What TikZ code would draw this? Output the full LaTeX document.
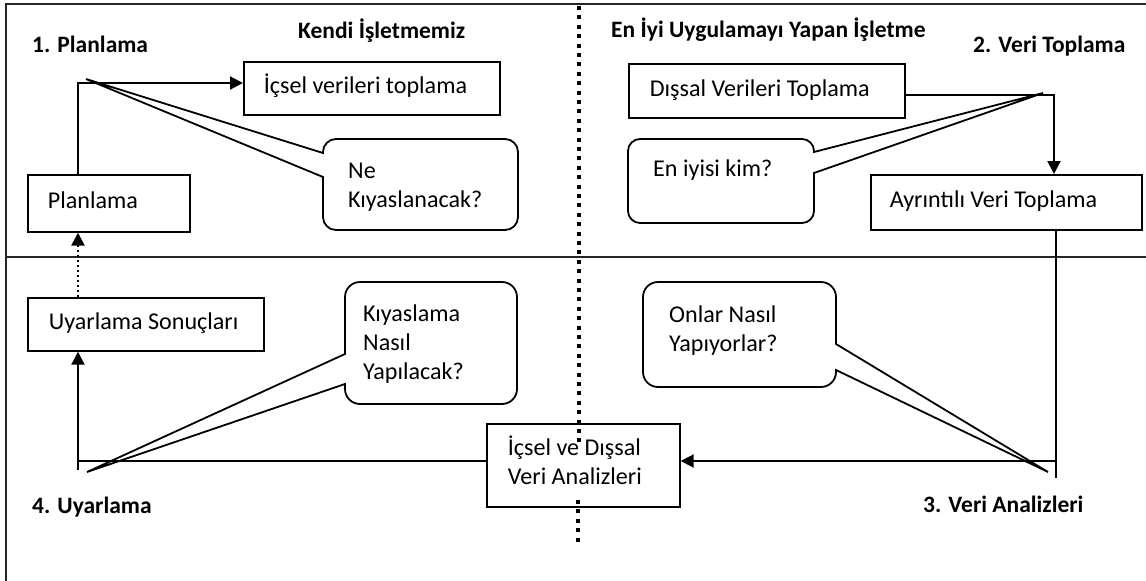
\documentclass[tikz,border=0pt]{standalone}
\usepackage{fontspec}
\setmainfont{Carlito}
\usetikzlibrary{arrows.meta}
\begin{document}
\begin{tikzpicture}[x=1pt,y=-1pt,
  font=\fontsize{24.1}{29}\selectfont,
  bx/.style={draw, line width=1.7pt, anchor=north west, align=flush left, inner ysep=0pt, text height=16pt, text depth=5pt},
  lbl/.style={font=\fontsize{23.5}{29}\selectfont\bfseries, anchor=base west, inner sep=0pt},
  txt/.style={anchor=base west, inner sep=0pt, align=flush left},
  ln/.style={line width=2pt},
  arr/.style={ln, -{Triangle[length=13pt,width=13pt]}},
  coline/.style={line width=1.8pt, line join=miter},
  frame/.style={line width=2pt, draw=black!85},
  bigdots/.style={line width=4pt, dash pattern=on 4pt off 5.4pt},
  smalldots/.style={line width=2.5pt, dash pattern=on 2.5pt off 2.5pt}]
\useasboundingbox (0,0) rectangle (1146,581);

% frame and quadrant lines
\draw[frame] (6,581) -- (6,4) -- (1146,4);
\draw[frame] (6,257) -- (1146,257);

% titles
\node[lbl] (t1) at (32,52) {1. Planlama};
\node[lbl] (t2) at (973,52) {2. Veri Toplama};
\node[lbl] (t3) at (923,512) {3. Veri Analizleri};
\node[lbl] (t4) at (32,513) {4. Uyarlama};
\node[lbl] (kendi) at (298,38) {Kendi İşletmemiz};
\node[lbl] (eniyi) at (611,37) {En İyi Uygulamayı Yapan İşletme};

% boxes
\node[bx, inner xsep=20pt, text width=216pt, minimum height=53pt] (ic) at (243,61) {İçsel verileri toplama};
\node[bx, inner xsep=20pt, text width=122pt, minimum height=57pt] (pl) at (27,174) {Planlama};
\node[bx, inner xsep=21pt, text width=194pt, minimum height=53pt] (us) at (27,297) {Uyarlama Sonuçları};
\node[bx, inner xsep=21pt, text width=234pt, minimum height=54pt] (dv) at (628,63) {Dışsal Verileri Toplama};
\node[bx, inner xsep=19pt, text width=233pt, minimum height=55pt] (ay) at (870,174) {Ayrıntılı Veri Toplama};
\node[draw, line width=1.7pt, fill=white, anchor=north west, inner ysep=0pt, inner xsep=21pt] (an) at (486,423)
  {\parbox[b][83pt][t]{151pt}{\rule{0pt}{32pt}İçsel ve Dışsal\\Veri Analizleri}};

% callouts (rounded boxes with pointers)
\coordinate (tip1) at (86,79);
\coordinate (tip2) at (1043,93);
\coordinate (tip3) at (1048,472);
\coordinate (tip4) at (87,472);
% left notch: Ne Kıyaslanacak
\draw[coline] (323,153) -- (323,152)
  arc[start angle=180, end angle=270, radius=13] -- (505,139)
  arc[start angle=270, end angle=360, radius=13] -- (518,217)
  arc[start angle=0, end angle=90, radius=13] -- (336,230)
  arc[start angle=90, end angle=180, radius=13] -- (323,177) -- (tip1) -- cycle;
% right notch: En iyisi kim
\draw[coline] (814,173) -- (814,211)
  arc[start angle=0, end angle=90, radius=12] -- (640,223)
  arc[start angle=90, end angle=180, radius=12] -- (628,151)
  arc[start angle=180, end angle=270, radius=12] -- (802,139)
  arc[start angle=270, end angle=360, radius=12] -- (814,152) -- (tip2) -- cycle;
% right notch: Onlar Nasıl
\draw[coline] (836,370) -- (836,372)
  arc[start angle=0, end angle=90, radius=15] -- (658,387)
  arc[start angle=90, end angle=180, radius=15] -- (643,297)
  arc[start angle=180, end angle=270, radius=15] -- (821,282)
  arc[start angle=270, end angle=360, radius=15] -- (836,344) -- (tip3) -- cycle;
% left notch: Kıyaslama Nasıl
\draw[coline] (345,354) -- (345,297)
  arc[start angle=180, end angle=270, radius=15] -- (502,282)
  arc[start angle=270, end angle=360, radius=15] -- (517,389)
  arc[start angle=0, end angle=90, radius=15] -- (360,404)
  arc[start angle=90, end angle=180, radius=15] -- (345,384) -- (tip4) -- cycle;
\node[txt] (q1) at (348,207) {Ne\\Kıyaslanacak?};
\node[txt] (q2) at (653,176) {En iyisi kim?};
\node[txt] (q3) at (669,351) {Onlar Nasıl\\Yapıyorlar?};
\node[txt] (q4) at (363,379) {Kıyaslama\\Nasıl\\Yapılacak?};

% central dotted divider
\draw[bigdots] (579,6) -- (579,446);
\draw[bigdots] (578,500) -- (578,542);

% connectors
\coordinate (c1) at (78,83);
\draw[arr] (c1 |- pl.north) -- (c1) -- (c1 -| ic.west);
\draw[smalldots, -{Triangle[length=13pt,width=13pt]}] (c1 |- us.north) -- (c1 |- pl.south);
\coordinate (c4) at (78,470);
\coordinate (c4h) at (78,461);
\draw[arr] (c4) -- (c4 |- us.south);
\draw[ln] (c4h) -- (c4h -| an.west);
\coordinate (c2) at (1054,95);
\draw[arr] (c2 -| dv.east) -- (c2) -- (c2 |- ay.north);
\coordinate (c3) at (1056,478);
\coordinate (c3h) at (1056,461);
\draw[ln] (c3 |- ay.south) -- (c3);
\draw[arr] (c3h) -- (c3h -| an.east);
\end{tikzpicture}
\end{document}
